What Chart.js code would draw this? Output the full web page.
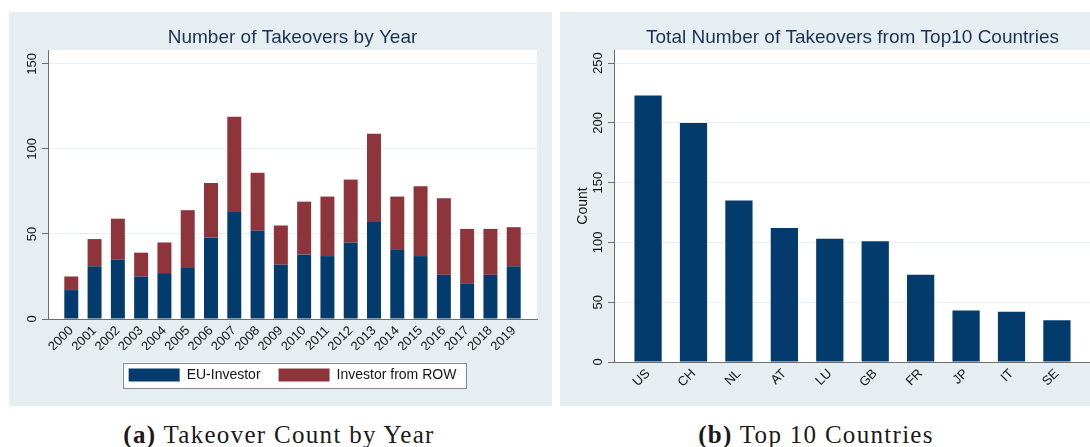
<!DOCTYPE html>
<html>
<head>
<meta charset="utf-8">
<title>Takeovers</title>
<script src="https://cdn.jsdelivr.net/npm/chart.js@4.4.1/dist/chart.umd.min.js"></script>
<style>
  html, body { margin: 0; padding: 0; background: #fff; overflow: hidden; width: 1090px; height: 447px; }
  .panel { position: absolute; top: 12px; height: 394px; background: #e6eef2; }
  .panel canvas { display: block; }
  #panelA { left: 9px; width: 543px; }
  #panelB { left: 560px; width: 560px; }
  .caption { position: absolute; top: 421px; width: 420px; height: 28px; line-height: 28px; text-align: center;
             font-family: 'Liberation Serif', 'DejaVu Serif', serif; font-size: 25px; letter-spacing: 1.3px; color: #1a1a1a; }
  .caption b { font-weight: 600; }
  #capA { left: 69px; }
  #capB { left: 606px; }
</style>
</head>
<body>
<div class="panel" id="panelA"><canvas id="yearChart" width="543" height="394"></canvas></div>
<div class="panel" id="panelB"><canvas id="countryChart" width="560" height="394"></canvas></div>
<div class="caption" id="capA"><b>(a)</b> Takeover Count by Year</div>
<div class="caption" id="capB"><b>(b)</b> Top 10 Countries</div>

<script>
// values
const years = [2000, 2001, 2002, 2003, 2004, 2005, 2006, 2007, 2008, 2009,
               2010, 2011, 2012, 2013, 2014, 2015, 2016, 2017, 2018, 2019];
const euInvestor  = [17, 31, 35, 25, 27, 30, 48, 63, 52, 32, 38, 37, 45, 57, 41, 37, 26, 21, 26, 31];
const rowInvestor = [8, 16, 24, 14, 18, 34, 32, 56, 34, 23, 31, 35, 37, 52, 31, 41, 45, 32, 27, 23];
const yearAxisTicks = [0, 50, 100, 150];

const countries = ['US', 'CH', 'NL', 'AT', 'LU', 'GB', 'FR', 'JP', 'IT', 'SE'];
const countryCounts = [223, 200, 135, 112, 103, 101, 73, 43, 42, 35];
const countAxisTicks = [0, 50, 100, 150, 200, 250];

const NAVY = '#023b6c';
const MAROON = '#8e343b';
const AXIS = '#6e6e6e';
const GRID = '#e9eff2';
const TEXT = '#141414';
const TITLE = '#1b3252';

Chart.defaults.font.family = "'Liberation Sans', Arial, sans-serif";
Chart.defaults.color = TEXT;

// white plot region + framed legend (stata look)
const plotBackground = {
    id: 'plotBackground',
    beforeDraw(chart) {
        const { ctx, chartArea: a } = chart;
        ctx.save();
        ctx.fillStyle = '#ffffff';
        ctx.fillRect(a.left, a.top, a.right - a.left, a.bottom - a.top);

        const boxes = chart.options.plugins.legend.display ? chart.legend.legendHitBoxes : [];
        if (boxes.length) {
            const first = boxes[0];
            const last = boxes[boxes.length - 1];
            const left = first.left - 6;
            const right = last.left + last.width + 9;
            const mid = first.top + first.height / 2;
            ctx.fillRect(left, mid - 12.5, right - left, 25);
            ctx.strokeStyle = '#8a8a8a';
            ctx.lineWidth = 1;
            ctx.strokeRect(Math.round(left) + 0.5, Math.round(mid - 12.5) + 0.5, Math.round(right - left), 25);
        }
        ctx.restore();
    }
};

function valueAxis(tickValues, max, width) {
    return {
        min: 0,
        max: max,
        stacked: true,
        afterBuildTicks: scale => { scale.ticks = tickValues.map(v => ({ value: v })); },
        afterFit: scale => { scale.width = width; },
        ticks: { minRotation: 90, maxRotation: 90, crossAlign: 'center', padding: -1, font: { size: 13 }, color: TEXT },
        grid: { color: GRID, tickColor: AXIS, tickLength: 6 },
        border: { display: true, color: AXIS }
    };
}

function indexAxis(tickValues, min, max, height, label) {
    return {
        type: 'linear',
        min: min,
        max: max,
        offset: false,
        stacked: true,
        afterBuildTicks: scale => { scale.ticks = tickValues.map(v => ({ value: v })); },
        afterFit: scale => { scale.height = height; },
        ticks: { autoSkip: false, minRotation: 45, maxRotation: 45, padding: 4, font: { size: 13 }, color: TEXT, callback: label },
        grid: { display: false, drawTicks: false },
        border: { display: true, color: AXIS }
    };
}

function titleOpts(text) {
    return {
        display: true,
        text: text,
        fullSize: false,
        color: TITLE,
        font: { size: 19, weight: 'normal' },
        padding: { top: 14, bottom: 1.2 }
    };
}

new Chart(document.getElementById('yearChart'), {
    type: 'bar',
    data: {
        labels: years,
        datasets: [
            { label: 'EU-Investor', data: euInvestor, backgroundColor: NAVY, borderWidth: 0 },
            { label: 'Investor from ROW', data: rowInvestor, backgroundColor: MAROON, borderWidth: 0 }
        ]
    },
    options: {
        responsive: false,
        animation: false,
        categoryPercentage: 1,
        barPercentage: 0.6,
        layout: { padding: { left: 0, right: 15, top: 0, bottom: 14 } },
        scales: {
            x: indexAxis(years, 1999, 2020, 31, v => String(v)),
            y: valueAxis(yearAxisTicks, 158.2, 39)
        },
        plugins: {
            title: titleOpts('Number of Takeovers by Year'),
            legend: {
                display: true,
                position: 'bottom',
                fullSize: false,
                labels: { boxWidth: 51, boxHeight: 13, padding: 18, font: { size: 14 }, color: TEXT }
            },
            tooltip: { enabled: false }
        }
    },
    plugins: [plotBackground]
});

new Chart(document.getElementById('countryChart'), {
    type: 'bar',
    data: {
        datasets: [{
            label: 'Count',
            data: countryCounts.map((v, i) => ({ x: i, y: v })),
            backgroundColor: NAVY,
            borderWidth: 0
        }]
    },
    options: {
        responsive: false,
        animation: false,
        categoryPercentage: 1,
        barPercentage: 0.6,
        layout: { padding: { left: 0, right: 29, top: 0, bottom: 0 } },
        scales: {
            x: indexAxis(countries.map((c, i) => i), -0.75, 9.75, 44, v => countries[v]),
            y: Object.assign(valueAxis(countAxisTicks, 261, 54), {
                title: { display: true, text: 'Count', font: { size: 14 }, color: TEXT, padding: { top: 15, bottom: 0 } }
            })
        },
        plugins: {
            title: titleOpts('Total Number of Takeovers from Top10 Countries'),
            legend: { display: false },
            tooltip: { enabled: false }
        }
    },
    plugins: [plotBackground]
});
</script>
</body>
</html>
